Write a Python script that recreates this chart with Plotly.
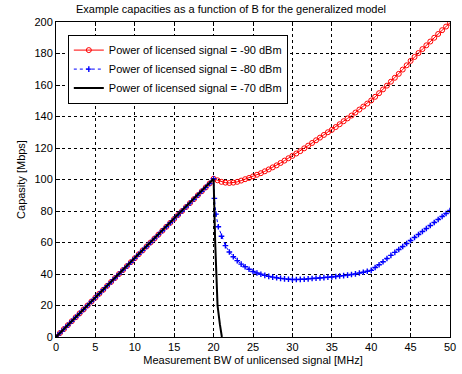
import plotly.graph_objects as go

# ---- data ----
x_red = [i * 0.5 for i in range(101)]
y_red = [0, 2.5, 5, 7.5, 10, 12.5, 15, 17.5, 20, 22.5, 25, 27.5, 30, 32.5, 35, 37.5, 40, 42.5, 45, 47.5,
         50, 52.5, 55, 57.5, 60, 62.5, 65, 67.5, 70, 72.5, 75, 77.5, 80, 82.5, 85, 87.5, 90, 92.5, 95, 97.5,
         100.5, 99.5, 98.5, 98, 97.8, 98, 98.5, 99.3, 100.2, 101, 102, 103, 104, 105.2, 106.4, 107.7,
         109, 110.5, 112, 113.5, 115, 116.5, 118, 119.8, 121.5, 123.2, 124.9, 126.6, 128.3, 130,
         131.5, 133.3, 135.1, 137, 138.8, 140.6, 142.5, 144.4, 146.3, 148.2, 150.2, 152.5, 154.8,
         157.2, 159.6, 162.1, 164.6, 167.1, 169.8, 172.5, 175.3, 177.8, 180.3, 182.8, 185.2, 187.6,
         190, 192.4, 194.8, 197.1, 199.5]

x_blue = [0, 0.5, 1, 1.5, 2, 2.5, 3, 3.5, 4, 4.5, 5, 5.5, 6, 6.5, 7, 7.5, 8, 8.5, 9, 9.5,
          10, 10.5, 11, 11.5, 12, 12.5, 13, 13.5, 14, 14.5, 15, 15.5, 16, 16.5, 17, 17.5, 18, 18.5, 19, 19.5,
          20, 20.1, 20.3, 20.6, 21, 21.5, 22, 22.5, 23, 23.5, 24, 24.5, 25, 25.5, 26, 26.5, 27, 27.5,
          28, 28.5, 29, 29.5, 30, 30.5, 31, 31.5, 32, 32.5, 33, 33.5, 34, 34.5, 35, 35.5, 36, 36.5,
          37, 37.5, 38, 38.5, 39, 39.5, 40, 40.5, 41, 41.5, 42, 42.5, 43, 43.5, 44, 44.5, 45, 45.5,
          46, 46.5, 47, 47.5, 48, 48.5, 49, 49.5, 50]
y_blue = [0, 2.5, 5, 7.5, 10, 12.5, 15, 17.5, 20, 22.5, 25, 27.5, 30, 32.5, 35, 37.5, 40, 42.5, 45, 47.5,
          50, 52.5, 55, 57.5, 60, 62.5, 65, 67.5, 70, 72.5, 75, 77.5, 80, 82.5, 85, 87.5, 90, 92.5, 95, 97.5,
          100.5, 88, 78, 70, 64, 58, 54, 51, 48.5, 46.3, 44.6, 43, 41.6, 40.6, 39.8, 39.1, 38.5, 38,
          37.6, 37.2, 36.9, 36.7, 36.5, 36.5, 36.6, 36.7, 36.9, 37.1, 37.3, 37.5, 37.7, 37.9, 38.1, 38.4,
          38.7, 39, 39.3, 39.7, 40.1, 40.6, 41.1, 41.7, 42.3, 44.1, 45.9, 47.8, 49.8, 51.8, 53.7, 55.6,
          57.5, 59.4, 61.3, 63.2, 65.1, 67, 68.9, 70.8, 72.7, 74.6, 76.5, 78.4, 80.3]

x_black = [0, 5, 10, 15, 20, 20.2, 20.5, 20.8, 21.05]
y_black = [0, 25, 50, 75, 100.5, 60, 20, 8, 0]

names = ["Power of licensed signal = -90 dBm",
         "Power of licensed signal = -80 dBm",
         "Power of licensed signal = -70 dBm"]

title = "Example capacities as a function of B for the generalized model"
x_label = "Measurement BW of unlicensed signal [MHz]"
y_label = "Capasity [Mbps]"
x_ticks = [0, 5, 10, 15, 20, 25, 30, 35, 40, 45, 50]
y_ticks = [0, 20, 40, 60, 80, 100, 120, 140, 160, 180, 200]

FONT = "Liberation Sans, Arial, sans-serif"

fig = go.Figure()
fig.add_trace(go.Scatter(
    x=x_red, y=y_red, name=names[0], mode="lines+markers",
    line=dict(color="#ff0000", width=1),
    marker=dict(symbol="circle-open", size=5, color="#ff0000", line=dict(width=1))))
fig.add_trace(go.Scatter(
    x=x_blue, y=y_blue, name=names[1], mode="lines+markers",
    line=dict(color="#0000ff", width=1, dash="3px,3px"),
    marker=dict(symbol="cross-thin-open", size=4, color="#0000ff", line=dict(width=1.4, color="#0000ff"))))
fig.add_trace(go.Scatter(
    x=x_black, y=y_black, name=names[2], mode="lines",
    line=dict(color="#000000", width=2)))

axis_common = dict(
    showgrid=True, gridcolor="#000000", gridwidth=1, griddash="3px,3px",
    showline=True, linecolor="#000000", linewidth=1, mirror="ticks",
    ticks="inside", ticklen=4, tickcolor="#000000",
    zeroline=False, tickfont=dict(family=FONT, size=11, color="#000000"),
    ticklabeloverflow="allow",
)

fig.update_layout(
    width=462, height=374,
    margin=dict(l=56, r=6, t=22, b=37),
    paper_bgcolor="white", plot_bgcolor="white",
    title=dict(text=title, x=0.5, xanchor="center", y=0.985, yanchor="top",
               font=dict(family=FONT, size=11, color="#000000")),
    xaxis=dict(range=[0, 50], tickvals=x_ticks,
               title=dict(text=x_label, font=dict(family=FONT, size=11, color="#000000"), standoff=4),
               **axis_common),
    yaxis=dict(range=[0, 200], tickvals=y_ticks,
               title=dict(text=y_label, font=dict(family=FONT, size=11, color="#000000"), standoff=6),
               **axis_common),
    legend=dict(x=0.03, y=0.96, xanchor="left", yanchor="top",
                bgcolor="white", bordercolor="#000000", borderwidth=1,
                font=dict(family=FONT, size=11, color="#000000"),
                tracegroupgap=0, itemwidth=30),
    showlegend=True,
)

fig.write_html("out.html", config={"displayModeBar": False},
               post_script="document.body.style.margin='0';document.body.style.overflow='hidden';")
